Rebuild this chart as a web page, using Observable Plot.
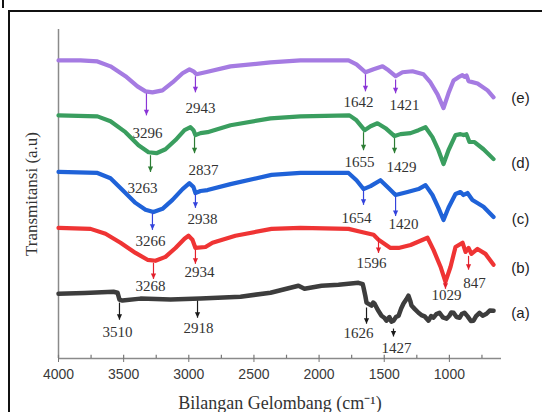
<!DOCTYPE html>
<html>
<head>
<meta charset="utf-8">
<script src="https://cdn.jsdelivr.net/npm/d3@7"></script>
<script src="https://cdn.jsdelivr.net/npm/@observablehq/plot@0.6"></script>
<style>
  html, body { margin: 0; padding: 0; background: #fff; }
  #wrap { position: relative; width: 542px; height: 412px; overflow: hidden; }
  #frame { position: absolute; left: 8px; top: 10px; width: 600px; height: 500px; border: 2px solid #111; box-sizing: border-box; }
  #mark { position: absolute; left: 2px; top: 0; width: 2px; height: 8px; background: #111; }
  #chart { position: absolute; left: 0; top: 0; }
</style>
</head>
<body>
<div id="wrap"><div id="frame"></div><div id="mark"></div><div id="chart"></div></div>
<script>
// ---------------- data (wavenumber cm-1, transmittance a.u.) ----------------
const waveE  = [4000,3831,3701,3601,3486,3394,3332,3279,3202,3125,3048,2995,2964,2941,2872,2680,2373,2143,1774,1713,1644,1582,1513,1467,1413,1360,1283,1199,1145,1091,1045,1007,968,930,900,884,868,853,784,707,661];
const transE = [90.6,90.6,90.3,88.8,85.8,82.7,81.2,80.9,81.5,83.9,86.7,87.9,87.3,86.4,87.0,88.8,90.0,90.6,90.6,89.4,87.0,87.9,88.8,87.6,85.8,87.0,87.3,86.4,83.9,80.3,76.1,80.6,84.5,85.5,86.1,85.6,86.0,84.3,83.6,81.5,79.4];

const waveD  = [4000,3701,3601,3486,3386,3309,3248,3179,3102,3033,2987,2964,2949,2910,2856,2680,2373,2143,1767,1713,1651,1605,1552,1490,1421,1375,1298,1237,1183,1130,1084,1045,1007,953,915,892,869,846,807,738,661];
const transD = [73.9,73.6,72.1,68.8,64.8,62.7,62.4,63.6,66.4,69.4,70.3,69.4,67.9,68.5,68.8,70.9,73.0,73.6,73.9,72.4,69.4,70.6,71.5,70.0,67.6,68.2,68.5,69.4,70.3,67.3,63.3,59.1,63.3,67.9,68.2,67.9,68.2,65.8,65.8,63.6,60.6];

const waveC  = [4000,3701,3601,3509,3409,3332,3271,3202,3125,3048,2995,2964,2949,2910,2856,2680,2365,2143,1774,1713,1659,1605,1529,1467,1413,1321,1237,1183,1130,1084,1045,1007,953,915,892,861,823,738,661];
const transC = [56.7,56.4,54.8,51.2,47.3,45.2,44.5,45.5,48.2,51.5,53.3,52.1,50.3,50.9,51.2,53.0,55.8,56.4,56.4,54.2,51.5,52.4,54.2,51.8,49.7,50.6,51.5,52.7,49.7,45.8,42.1,45.8,50.0,50.6,49.7,50.3,48.2,46.1,43.0];

const waveB  = [4000,3754,3639,3524,3409,3317,3256,3179,3102,3033,3002,2972,2949,2872,2818,2642,2365,2143,1774,1682,1582,1544,1452,1390,1298,1168,1122,1068,1030,991,953,899,876,853,831,784,723,661];
const transB = [39.7,39.4,37.9,35.2,32.1,30.0,29.7,30.9,33.6,36.4,37.3,36.1,33.6,33.9,35.2,37.3,39.4,39.7,39.4,38.5,37.6,36.1,33.6,33.6,34.5,36.7,33.0,27.9,23.3,27.9,33.9,35.2,32.4,33.6,31.8,33.3,31.8,28.5];

const waveA  = [4000,3800,3578,3547,3532,3509,3371,3140,2910,2603,2373,2158,2112,1981,1851,1698,1665,1659,1645,1636,1620,1598,1585,1575,1550,1521,1500,1483,1460,1445,1429,1410,1390,1370,1352,1330,1314,1300,1291,1265,1237,1215,1190,1160,1140,1122,1100,1076,1050,1022,1000,985,968,945,922,905,884,860,835,815,795,769,745,715,690,661];
const transA = [19.7,19.9,20.3,20.0,17.9,17.6,18.2,17.9,18.2,18.8,20.0,22.1,21.2,22.1,22.4,23.0,22.6,21.6,19.0,17.0,16.6,16.1,17.0,16.7,14.8,13.0,12.4,11.5,12.6,11.2,11.5,12.6,13.0,15.2,16.7,18.0,19.1,17.5,16.1,15.0,13.9,13.2,12.8,11.5,12.9,12.4,13.5,13.9,12.5,12.1,13.0,14.0,13.9,12.6,12.4,13.5,13.9,12.8,11.4,11.5,12.9,13.9,13.0,13.6,14.6,14.5];

// peak labels (text) and arrow wavenumbers
const peakTextE = ["3296","2943","1642","1421"];
const peakWaveE = [3325,2949,1644,1413];
const peakTextD = ["3263","2837","1655","1429"];
const peakWaveD = [3294,2956,1659,1421];
const peakTextC = ["3266","2938","1654","1420"];
const peakWaveC = [3279,2949,1659,1413];
const peakTextB = ["3268","2934","1596","1029","847"];
const peakWaveB = [3271,2949,1544,1030,853];
const peakTextA = ["3510","2918","1626","1427"];
const peakWaveA = [3532,2933,1636,1429];

const seriesNames = ["(e)","(d)","(c)","(b)","(a)"];
const majorTicks = [4000,3500,3000,2500,2000,1500,1000];
const minorTicks = [3750,3250,2750,2250,1750,1250,750];

// ---------------- layout of annotations (a.u. positions) ----------------
const arrowFromE = [80.6,85.8,86.4,84.8], arrowToE = [73.9,80.9,81.2,80.6], lblXE = [3317,2910,1698,1344], lblYE = [68.5,76.1,77.9,77.0];
const arrowFromD = [61.8,67.3,68.8,67.0], arrowToD = [56.7,62.4,63.3,62.4], lblXD = [3355,2887,1690,1367], lblYD = [51.8,57.3,59.7,58.2];
const arrowFromC = [44.2,50.0,51.2,49.1], arrowToC = [39.1,45.8,46.7,43.3], lblXC = [3294,2895,1713,1352], lblYC = [35.8,42.4,42.7,40.9];
const arrowFromB = [29.1,33.0,36.7,23.3,31.2], arrowToB = [24.2,28.8,32.1,21.2,27.0], lblXB = [3294,2918,1598,1022,807], lblYB = [22.1,26.1,29.1,19.1,23.0];
const arrowFromA = [17.0,17.6,15.5,9.1], arrowToA = [11.8,12.4,10.6,6.7], lblXA = [3547,2926,1698,1406], lblYA = [7.9,9.1,7.6,3.0];
const seriesLabelX = 454, seriesLabelY = [79.1,59.4,42.4,27.3,13.9];

const lineColors  = ["#a57be2","#3a9e5f","#1f62d8","#ef3434","#3d3d3d"];
const arrowColors = ["#8a35d6","#2c7d34","#3343dc","#e3202c","#1a1a1a"];

const serif = "Liberation Serif, Times New Roman, serif";
const sans = "Liberation Sans, Arial, sans-serif";

const series = [
  [waveE, transE, peakTextE, peakWaveE, arrowFromE, arrowToE, lblXE, lblYE],
  [waveD, transD, peakTextD, peakWaveD, arrowFromD, arrowToD, lblXD, lblYD],
  [waveC, transC, peakTextC, peakWaveC, arrowFromC, arrowToC, lblXC, lblYC],
  [waveB, transB, peakTextB, peakWaveB, arrowFromB, arrowToB, lblXB, lblYB],
  [waveA, transA, peakTextA, peakWaveA, arrowFromA, arrowToA, lblXA, lblYA]
];

const triDown = {
  draw(ctx) { ctx.moveTo(-2.6, -5.5); ctx.lineTo(2.6, -5.5); ctx.lineTo(0, 0); ctx.closePath(); }
};

const marks = [];
// axes lines
marks.push(Plot.ruleX([4000], {stroke: "#8a8a8a", strokeWidth: 1.5}));
marks.push(Plot.ruleY([0], {stroke: "#8a8a8a", strokeWidth: 1.5}));
marks.push(Plot.ruleX(minorTicks.concat(majorTicks), {y1: 0, y2: 1, stroke: "#777", strokeWidth: 1.2}));
marks.push(Plot.axisX({ticks: majorTicks, tickSize: 4, tickPadding: 7, stroke: "#777", fontSize: 14, fontFamily: sans, fill: "#3a3a3a", tickFormat: d => String(d)}));

series.forEach(([w, t, txt, pw, af, at, lx, ly], s) => {
  const pts = w.map((x, i) => ({x, y: t[i]}));
  marks.push(Plot.line(pts, {x: "x", y: "y", stroke: lineColors[s], strokeWidth: s === 4 ? 4.5 : 4.2, strokeLinejoin: "round", strokeLinecap: "round"}));
  const ann = txt.map((label, i) => ({label, wn: pw[i], from: af[i], to: at[i], lx: lx[i], ly: ly[i]}));
  marks.push(Plot.link(ann, {x1: "wn", x2: "wn", y1: "from", y2: "to", stroke: arrowColors[s], strokeWidth: 1.2}));
  marks.push(Plot.dot(ann, {x: "wn", y: "to", symbol: triDown, r: 3, fill: arrowColors[s], stroke: "none"}));
  marks.push(Plot.text(ann, {x: "lx", y: "ly", text: "label", fontFamily: serif, fontSize: 15, fill: "#333", textAnchor: "middle", lineAnchor: "middle"}));
});

marks.push(Plot.text(seriesNames, {x: () => seriesLabelX, y: (d, i) => seriesLabelY[i], text: d => d, fontFamily: sans, fontSize: 15, fill: "#222", textAnchor: "middle", lineAnchor: "middle"}));

marks.push(Plot.text(["Bilangan Gelombang (cm\u207B\u00B9)"], {frameAnchor: "bottom", dy: 45, fontFamily: serif, fontSize: 18, fill: "#333", textAnchor: "middle", lineAnchor: "middle"}));
marks.push(Plot.text(["Transmitansi (a.u)"], {frameAnchor: "left", dx: -27, rotate: -90, fontFamily: serif, fontSize: 17, fill: "#333", textAnchor: "middle", lineAnchor: "middle"}));

const chart = Plot.plot({
  width: 542,
  height: 412,
  marginLeft: 58,
  marginRight: 41,
  marginTop: 29,
  marginBottom: 54,
  style: {background: "transparent", overflow: "visible"},
  x: {domain: [4000, 600], axis: null},
  y: {domain: [0, 100], axis: null},
  marks
});
document.getElementById("chart").appendChild(chart);
</script>
</body>
</html>
